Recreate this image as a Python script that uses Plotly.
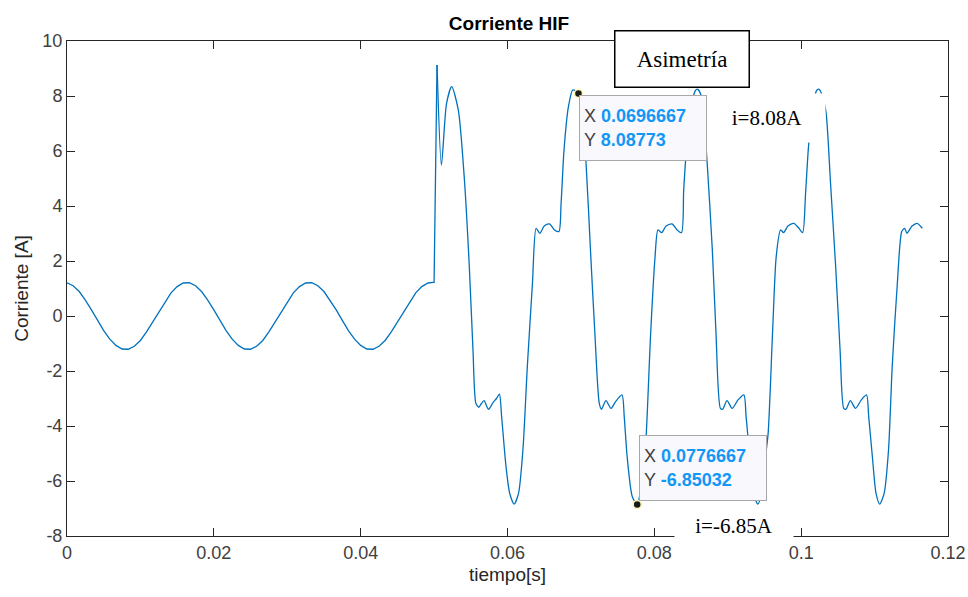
import plotly.graph_objects as go

# ---------------- data ----------------
# pre-fault current (0 .. 0.05 s) and the step up to the fault spike
t_pre = [0.0, 0.00083, 0.00167, 0.0025, 0.00333, 0.00417, 0.005, 0.00583, 0.00667, 0.0075,
         0.00833, 0.00917, 0.01, 0.01083, 0.01167, 0.0125, 0.01333, 0.01417, 0.015, 0.01583,
         0.01667, 0.0175, 0.01833, 0.01917, 0.02, 0.02083, 0.02167, 0.0225, 0.02333, 0.02417,
         0.025, 0.02583, 0.02667, 0.0275, 0.02833, 0.02917, 0.03, 0.03083, 0.03167, 0.0325,
         0.03333, 0.03417, 0.035, 0.03583, 0.03667, 0.0375, 0.03833, 0.03917, 0.04, 0.04083,
         0.04167, 0.0425, 0.04333, 0.04417, 0.045, 0.04583, 0.04667, 0.0475, 0.04833, 0.04917,
         0.0499, 0.0500, 0.0504]
i_pre = [1.21, 1.10, 0.89, 0.58, 0.22, -0.16, -0.53, -0.84, -1.07, -1.20,
         -1.21, -1.10, -0.89, -0.58, -0.22, 0.16, 0.53, 0.84, 1.07, 1.20,
         1.21, 1.10, 0.89, 0.58, 0.22, -0.16, -0.53, -0.84, -1.07, -1.20,
         -1.21, -1.10, -0.89, -0.58, -0.22, 0.16, 0.53, 0.84, 1.07, 1.20,
         1.21, 1.10, 0.89, 0.58, 0.22, -0.16, -0.53, -0.84, -1.07, -1.20,
         -1.21, -1.10, -0.89, -0.58, -0.22, 0.16, 0.53, 0.84, 1.07, 1.20,
         1.22, 1.22, 9.13]

# high-impedance-fault current (0.0504 .. 0.1165 s)
t_hif = [0.0504, 0.0510, 0.0517, 0.0524, 0.0533, 0.0541, 0.0548, 0.0553, 0.0557, 0.0561,
         0.0564, 0.0568, 0.0574, 0.0581, 0.0585, 0.0589, 0.0592, 0.0598, 0.0603, 0.0609,
         0.0615, 0.0621, 0.0627, 0.0634, 0.0639, 0.0644, 0.0650, 0.0657, 0.0664, 0.0670,
         0.0673, 0.0677, 0.0683, 0.0689, 0.0696667, 0.0702, 0.0707, 0.0713, 0.0719, 0.0725,
         0.0728, 0.0734, 0.0741, 0.0747, 0.0756, 0.0759, 0.0763, 0.0770, 0.0776667, 0.0782,
         0.0786, 0.0789, 0.0795, 0.0801, 0.0805, 0.0810, 0.0816, 0.0824, 0.0831, 0.0837,
         0.0840, 0.0844, 0.0850, 0.0856, 0.0859, 0.0864, 0.0868, 0.0872, 0.0879, 0.0884,
         0.0890, 0.0893, 0.0899, 0.0906, 0.0914, 0.0922, 0.0925, 0.0930, 0.0935, 0.0941,
         0.0946, 0.0951, 0.0955, 0.0961, 0.0966, 0.0972, 0.0976, 0.0982, 0.0990, 0.0997,
         0.1002, 0.1006, 0.1010, 0.1016, 0.1021, 0.1024, 0.1029, 0.1034, 0.1040, 0.1047,
         0.1053, 0.1058, 0.1061, 0.1067, 0.1074, 0.1082, 0.1089, 0.1092, 0.1097, 0.1102,
         0.1107, 0.1113, 0.1119, 0.1124, 0.1131, 0.1137, 0.1141, 0.1144, 0.1151, 0.1158,
         0.1165]
i_hif = [9.13, 5.49, 7.73, 8.34, 7.49, 5.07, 1.79, -1.24, -3.18, -3.32,
         -3.20, -3.08, -3.39, -3.12, -3.00, -2.84, -3.66, -5.48, -6.45, -6.84,
         -6.45, -4.87, -1.84, 1.19, 3.19, 3.01, 3.27, 3.35, 3.13, 3.07,
         4.10, 6.04, 7.61, 8.22, 8.08773, 7.20, 5.55, 2.40, -0.63, -3.18,
         -3.39, -3.08, -3.36, -3.12, -2.87, -3.66, -5.12, -6.57, -6.85032, -6.20,
         -5.20, -4.27, -0.63, 2.16, 3.13, 3.03, 3.27, 3.35, 3.13, 3.03,
         4.58, 6.16, 7.60, 8.20, 8.25, 8.00, 7.00, 5.55, 2.40, -0.63,
         -3.36, -3.39, -3.08, -3.36, -3.05, -2.87, -3.66, -5.12, -6.45, -6.84,
         -6.45, -5.20, -4.27, -0.63, 2.16, 3.13, 3.03, 3.27, 3.37, 3.19,
         3.03, 4.46, 6.16, 7.60, 8.20, 8.25, 8.00, 7.37, 4.83, 1.79,
         -1.24, -3.36, -3.39, -3.08, -3.36, -3.05, -2.87, -3.66, -5.12, -6.45,
         -6.84, -6.45, -4.87, -1.84, 1.19, 3.07, 3.19, 3.01, 3.27, 3.37,
         3.19]

# data tips
tip_x = [0.0696667, 0.0776667]
tip_y = [8.08773, -6.85032]
tip_xtxt = ["0.0696667", "0.0776667"]
tip_ytxt = ["8.08773", "-6.85032"]

x_ticks = [0, 0.02, 0.04, 0.06, 0.08, 0.1, 0.12]
x_ticktext = ["0", "0.02", "0.04", "0.06", "0.08", "0.1", "0.12"]
y_ticks = [-8, -6, -4, -2, 0, 2, 4, 6, 8, 10]
y_ticktext = ["-8", "-6", "-4", "-2", "0", "2", "4", "6", "8", "10"]

# ---------------- figure ----------------
W, H = 968, 597
ML, MR, MT, MB = 67, 20, 41, 61
PW, PH = W - ML - MR, H - MT - MB


def px(xp):
    return (xp - ML) / PW


def py(yp):
    return (H - MB - yp) / PH


LINE_BLUE = "#0072BD"
AX = "#262626"
SANS = "Liberation Sans, Arial, Helvetica, sans-serif"
SERIF = "Liberation Serif, Times New Roman, serif"

fig = go.Figure()
fig.add_trace(go.Scatter(x=t_pre, y=i_pre, mode="lines",
                         line=dict(color=LINE_BLUE, width=1.3), showlegend=False,
                         hoverinfo="skip"))
fig.add_trace(go.Scatter(x=t_hif, y=i_hif, mode="lines",
                         line=dict(color=LINE_BLUE, width=1.3, shape="spline", smoothing=0.7),
                         showlegend=False, hoverinfo="skip"))
fig.add_trace(go.Scatter(x=tip_x, y=tip_y, mode="markers",
                         marker=dict(color="#1a1a1a", size=8,
                                     line=dict(color="#FFF6B0", width=1.5)),
                         showlegend=False, hoverinfo="skip"))

annotations = []
# data tip boxes
tip_anchor = [("top", 1, -1), ("bottom", 2, 3)]
for k in range(2):
    ya, xs, ys = tip_anchor[k]
    txt = ("<span style='color:#404040'>X</span> <b><span style='color:#1397F5'>%s</span></b><br>"
           "<span style='color:#404040'>Y</span> <b><span style='color:#1397F5'>%s</span></b>"
           % (tip_xtxt[k], tip_ytxt[k]))
    annotations.append(dict(x=tip_x[k], y=tip_y[k], xref="x", yref="y", text=txt,
                            showarrow=False, xanchor="left", yanchor=ya, xshift=xs, yshift=ys,
                            align="left", width=118, height=56, borderpad=4,
                            bgcolor="#F8F8FD", bordercolor="#A8A8A8", borderwidth=1,
                            font=dict(family=SANS, size=18, color="#404040")))

# white patches with handwritten labels
annotations.append(dict(x=px(767), y=py(118), xref="paper", yref="paper", text="i=8.08A",
                        showarrow=False, xanchor="center", yanchor="middle",
                        width=116, height=48, borderpad=0, bgcolor="white",
                        font=dict(family=SERIF, size=21, color="black")))
annotations.append(dict(x=px(734), y=py(525.5), xref="paper", yref="paper", text="i=-6.85A",
                        showarrow=False, xanchor="center", yanchor="middle",
                        width=118, height=39, borderpad=0, bgcolor="white",
                        font=dict(family=SERIF, size=21, color="black")))
annotations.append(dict(x=px(681.5), y=py(58.5), xref="paper", yref="paper", text="Asimetría",
                        showarrow=False, xanchor="center", yanchor="middle",
                        width=133, height=55, borderpad=0, bgcolor="white",
                        bordercolor="black", borderwidth=1.5,
                        font=dict(family=SERIF, size=23, color="black")))

fig.update_layout(
    width=W, height=H,
    margin=dict(l=ML, r=MR, t=MT, b=MB, autoexpand=False),
    paper_bgcolor="white", plot_bgcolor="white",
    title=dict(text="<b>Corriente HIF</b>", x=px(509), xref="paper", xanchor="center",
               y=1 - 23 / H, yanchor="middle",
               font=dict(family=SANS, size=19, color="black")),
    annotations=annotations,
    showlegend=False,
)
fig.update_xaxes(range=[0, 0.12], tickvals=x_ticks, ticktext=x_ticktext, automargin=False,
                 showgrid=False, zeroline=False, showline=True, linecolor=AX, linewidth=1,
                 mirror="ticks", ticks="inside", ticklen=8, tickcolor=AX,
                 tickfont=dict(family=SANS, size=18, color="#404040"),
                 title=dict(text="tiempo[s]", font=dict(family=SANS, size=19, color="#262626"),
                            standoff=6))
fig.update_yaxes(range=[-8, 10], tickvals=y_ticks, ticktext=y_ticktext, automargin=False,
                 showgrid=False, zeroline=False, showline=True, linecolor=AX, linewidth=1,
                 mirror="ticks", ticks="inside", ticklen=8, tickcolor=AX,
                 tickfont=dict(family=SANS, size=18, color="#404040"),
                 title=dict(text="Corriente [A]", font=dict(family=SANS, size=19, color="#262626"),
                            standoff=8))

fig.write_html("out.html", config={"displayModeBar": False},
               post_script="document.body.style.margin='0';")
